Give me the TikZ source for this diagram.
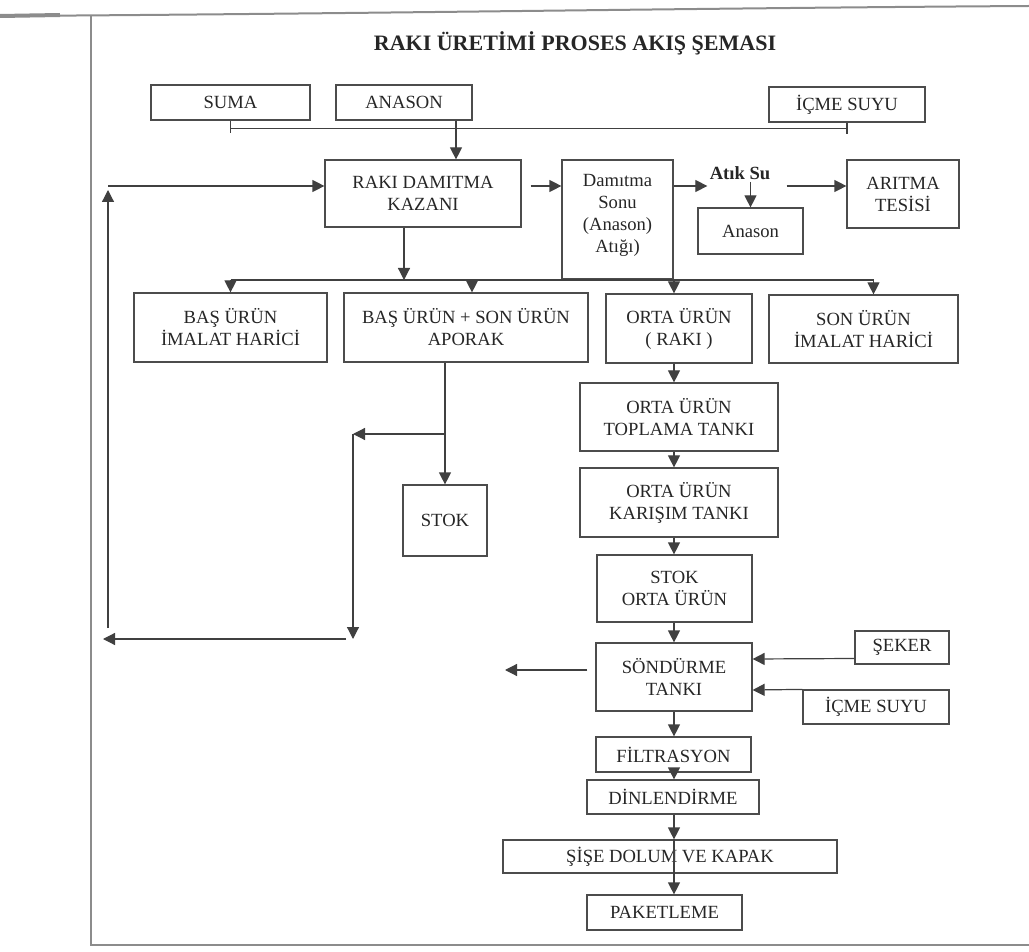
\documentclass[tikz,border=0pt]{standalone}
\usepackage{fontspec}
\setmainfont{Liberation Serif}
\usetikzlibrary{arrows.meta,positioning}
\tikzset{
  proc/.style={draw=black!70,line width=0.6pt,text=black!85,%
    font=\fontsize{9.3}{11}\selectfont,inner sep=2pt,align=center},
  sz/.style 2 args={minimum width=#1*0.5pt,minimum height=#2*0.5pt},
  lbl/.style={font=\bfseries\fontsize{9.3}{11}\selectfont,text=black!85,inner sep=1pt},
  ttl/.style={font=\bfseries\fontsize{11}{13}\selectfont,text=black!85},
  flow/.style={-{Triangle[length=6pt,width=6pt]},line width=0.6pt,draw=black!75},
  line/.style={line width=0.6pt,draw=black!75},
  frame/.style={line width=1pt,draw=black!45},
}
\begin{document}
\begin{tikzpicture}[x=0.5pt,y=-0.5pt]
\useasboundingbox (0,0) rectangle (1029,952);
% page frame
\draw[frame] (0,16) .. controls (350,14) and (700,8) .. (1029,6);
\draw[frame,line width=2pt] (0,16) -- (60,15);
\draw[frame] (91,15) -- (91,945) -- (1029,945);

\node[ttl] (title) at (575,43) {RAKI ÜRETİMİ PROSES AKIŞ ŞEMASI};

% inputs
\node[proc,sz={159}{35}] (suma) at (230.5,102.5) {SUMA};
\node[proc,sz={136}{35}] (anason) at (404,102.5) {ANASON};
\node[proc,sz={156}{35}] (icme1) at (847,104.5) {İÇME SUYU};

% distillation
\node[proc,sz={196}{67}] (kazan) at (423,193.5) {RAKI DAMITMA\\KAZANI};
\node[proc,sz={111}{119},text depth=6pt] (sonu) at (617.5,219.5) {Damıtma\\Sonu\\(Anason)\\Atığı)};
\node[lbl] (atik) at (740,173) {Atık Su};
\node[proc,sz={105}{46}] (anasonatik) at (750.5,231) {Anason};
\node[proc,sz={112}{68}] (aritma) at (903,194) {ARITMA\\TESİSİ};

% fractions
\node[proc,sz={193}{69}] (bas) at (230.5,327.5) {BAŞ ÜRÜN\\İMALAT HARİCİ};
\node[proc,sz={244}{69}] (aporak) at (466,327.5) {BAŞ ÜRÜN + SON ÜRÜN\\APORAK};
\node[proc,sz={146}{69}] (orta) at (679,328.5) {ORTA ÜRÜN\\( RAKI )};
\node[proc,sz={189}{68}] (son) at (863.5,329) {SON ÜRÜN\\İMALAT HARİCİ};
\node[proc,sz={84}{71}] (stok) at (445,520.5) {STOK};

% main line
\node[proc,sz={198}{68}] (toplama) at (679,417) {ORTA ÜRÜN\\TOPLAMA TANKI};
\node[proc,sz={198}{69}] (karisim) at (679,502.5) {ORTA ÜRÜN\\KARIŞIM TANKI};
\node[proc,sz={155}{67}] (stokorta) at (674.5,588.5) {STOK\\ORTA ÜRÜN};
\node[proc,sz={156}{68}] (sondurme) at (674,677) {SÖNDÜRME\\TANKI};
\node[proc,sz={94}{33}] (seker) at (902,647.5) {ŞEKER};
\node[proc,sz={146}{34}] (icme2) at (876,707) {İÇME SUYU};
\node[proc,sz={155}{35}] (filtre) at (673.5,754.5) {FİLTRASYON};
\node[proc,sz={172}{34}] (dinlen) at (673,797) {DİNLENDİRME};
\node[proc,sz={334}{33}] (sise) at (670,856.5) {ŞİŞE DOLUM VE KAPAK};
\node[proc,sz={155}{35}] (paket) at (664.5,912.5) {PAKETLEME};

% helper points
\coordinate (kin) at (456,0);
\coordinate (loop) at (108,186);
\coordinate (up) at (108,628);
\coordinate (split) at (404,280);
\coordinate (ret) at (353,434);
\coordinate (retb) at (353,639);
\coordinate (back) at (103,639);
\coordinate (col) at (674,0);
\coordinate (out) at (505,670);

% feed line
\path (suma.south) ++(0,8) coordinate (feed);
\draw[line] (suma.south) -- ++(0,12);
\draw[line] (icme1.south) -- ++(0,11);
\draw[line] (feed) -- (feed -| icme1.south);
\draw[flow] (anason.south -| kin) -- (kazan.north -| kin);

% distillation outputs
\draw[flow] (up) -- ([yshift=-2pt]loop);
\draw[flow] (loop) -- (kazan.west |- loop);
\draw[flow,shorten <=4.5pt] (kazan.east |- loop) -- (sonu.west |- loop);
\draw[flow] (sonu.east |- loop) -- (atik.west |- loop);
\draw[flow] (atik.south -| anasonatik) -- (anasonatik.north);
\draw[flow,shorten <=7pt] (atik.east |- loop) -- (aritma.west |- loop);

% split into fractions
\draw[flow] (kazan.south -| split) -- (split);
\draw[line] (bas.north |- split) -- ([xshift=5pt]son.north |- split);
\draw[flow] (bas.north |- split) -- (bas.north);
\draw[flow] ([xshift=3pt]aporak.north |- split) -- ([xshift=3pt]aporak.north);
\draw[flow] (col |- split) -- (orta.north -| col);
\draw[flow] ([xshift=5pt]son.north |- split) -- ([xshift=5pt]son.north);

% aporak back to the boiler
\draw[flow] (aporak.south -| stok) -- (stok.north);
\draw[flow] (stok.north |- ret) -- (ret);
\draw[flow] (ret) -- (retb);
\draw[flow,shorten <=3.5pt] (retb) -- (back);

% orta urun line
\foreach \a/\b in {orta/toplama,toplama/karisim,karisim/stokorta,stokorta/sondurme,%
  sondurme/filtre,filtre/dinlen,dinlen/sise}
  \draw[flow] (\a.south -| col) -- (\b.north -| col);
\draw[flow] (sise.north -| col) -- (paket.north -| col);

% additions
\draw[flow] ([yshift=-5.5pt]seker.west) -- ([yshift=9pt]sondurme.east);
\draw[flow] (icme2.north west) -- ([yshift=-6.5pt]sondurme.east);
\draw[flow,shorten <=4pt] ([yshift=3.5pt]sondurme.west) -- (out);
\end{tikzpicture}
\end{document}
